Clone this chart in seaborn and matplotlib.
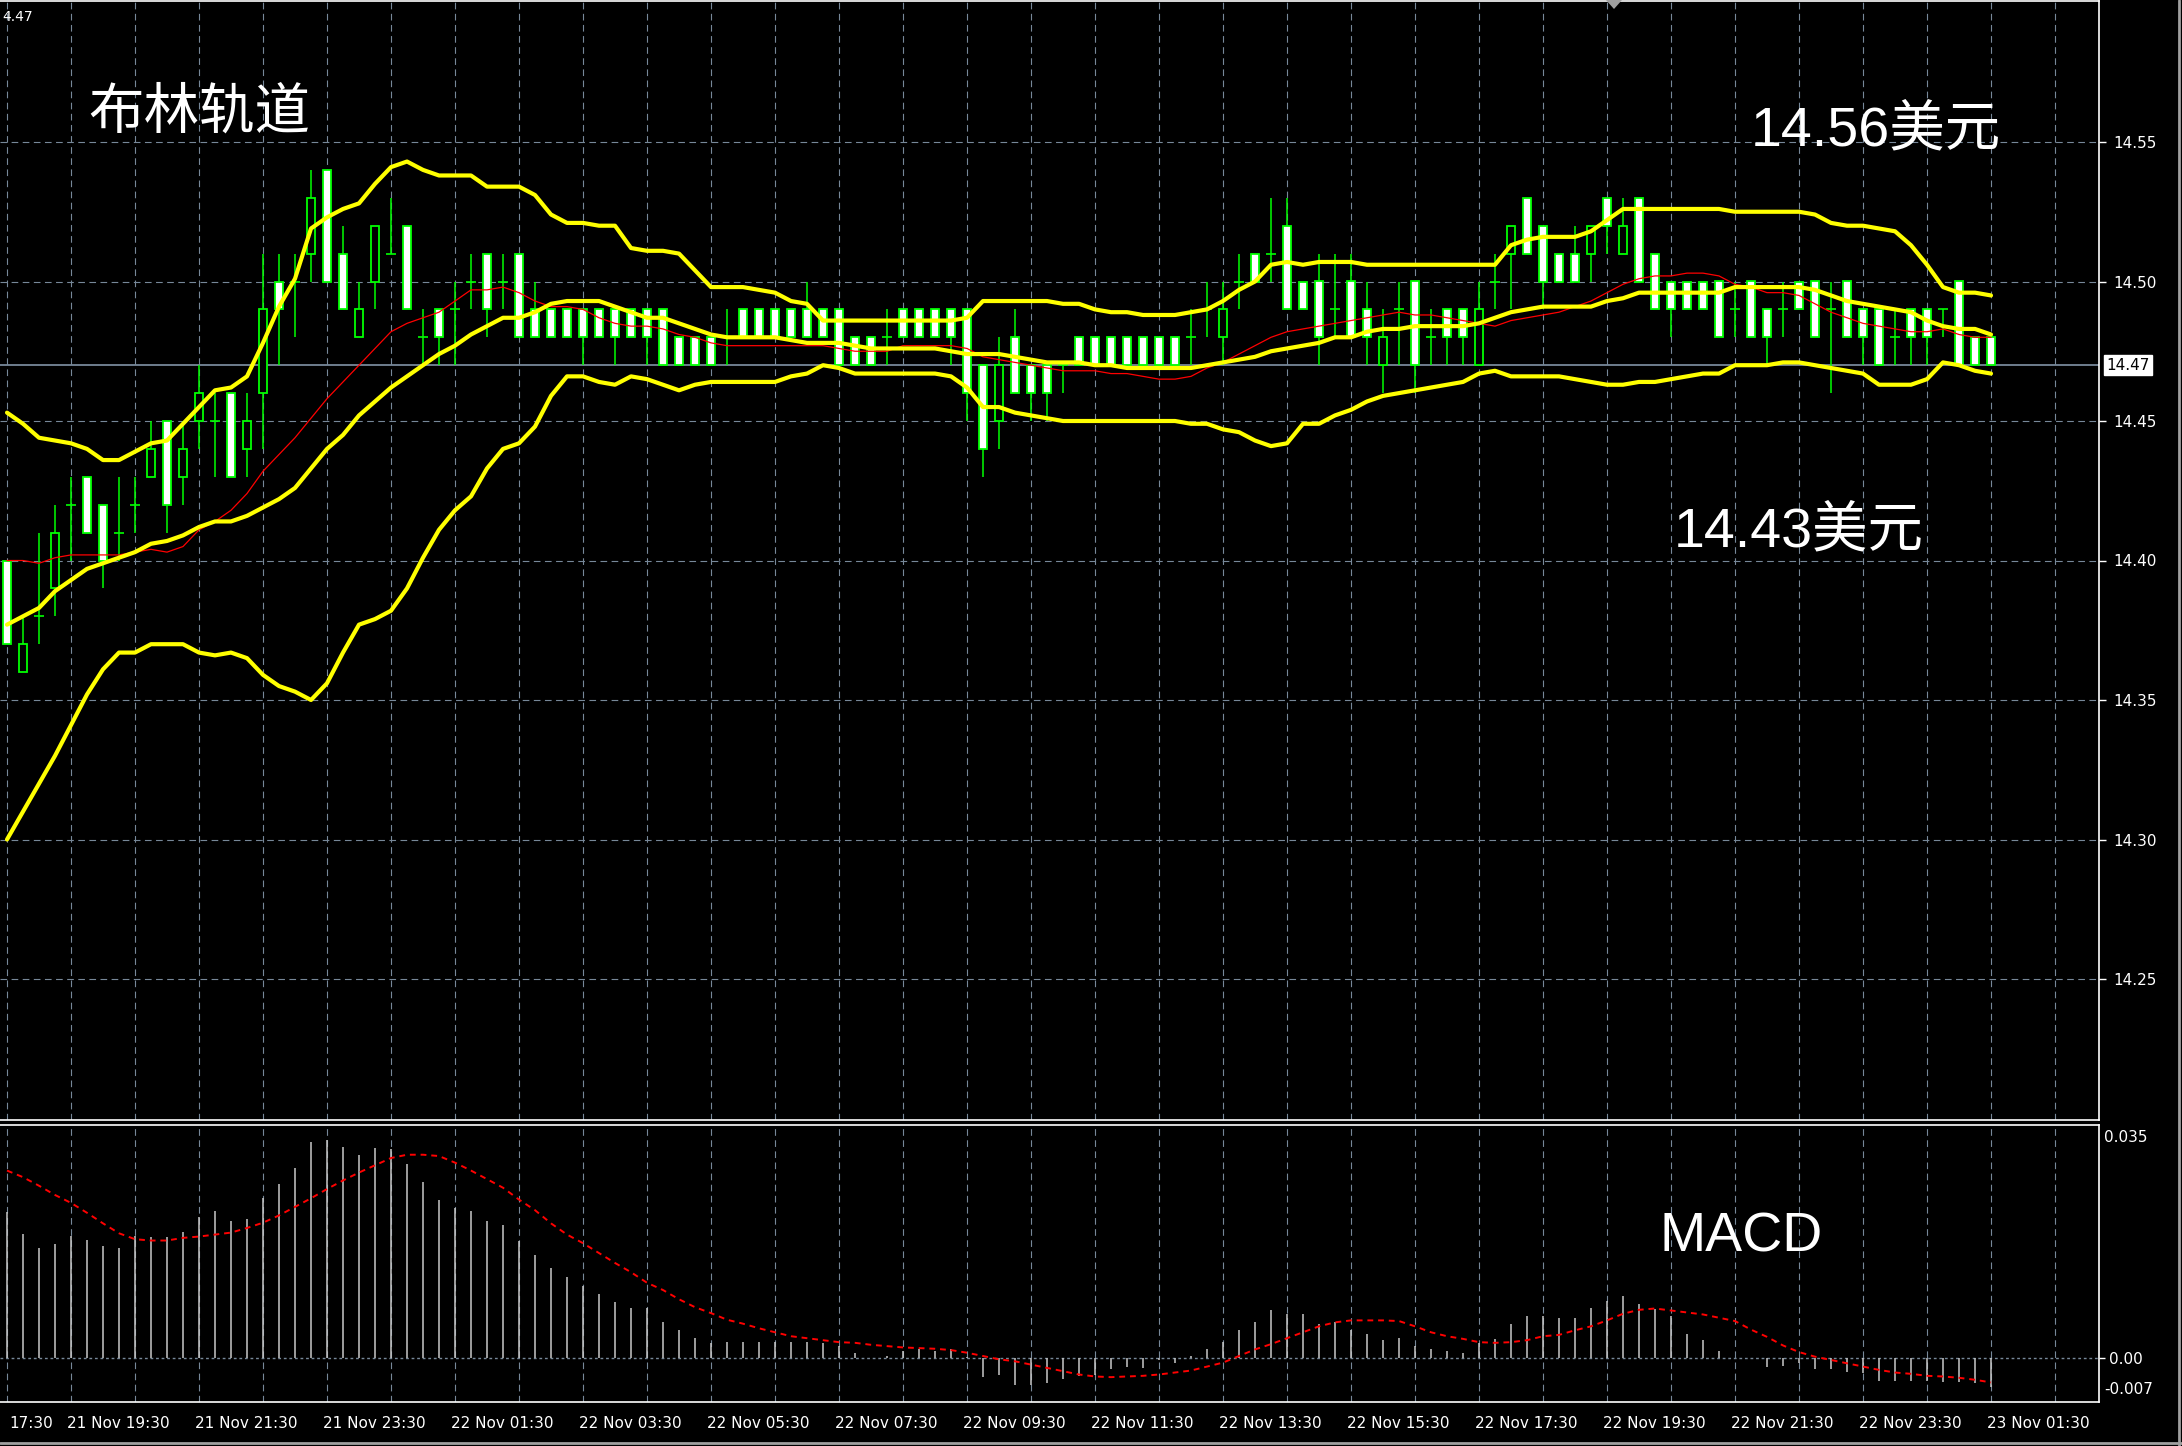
import matplotlib
matplotlib.use('Agg')
import matplotlib.pyplot as plt
import matplotlib.transforms as mtransforms
from matplotlib.lines import Line2D
from matplotlib.patches import Polygon
import numpy as np
import pandas as pd
import seaborn as sns

# ---- candle data (M15 bars, 21 Nov 18:30 -> 23 Nov 01:30) ----
open_ = [14.40, 14.36, 14.38, 14.39, 14.42, 14.43, 14.42, 14.41, 14.42, 14.43,
         14.45, 14.43, 14.45, 14.45, 14.46, 14.44, 14.46, 14.50, 14.50, 14.51,
         14.54, 14.51, 14.48, 14.50, 14.51, 14.52, 14.48, 14.49, 14.49, 14.50,
         14.51, 14.50, 14.51, 14.49, 14.49, 14.49, 14.49, 14.49, 14.49, 14.49,
         14.49, 14.49, 14.48, 14.48, 14.48, 14.48, 14.49, 14.49, 14.49, 14.49,
         14.49, 14.49, 14.49, 14.48, 14.48, 14.48, 14.49, 14.49, 14.49, 14.49,
         14.49, 14.47, 14.45, 14.48, 14.47, 14.47, 14.47, 14.48, 14.48, 14.48,
         14.48, 14.48, 14.48, 14.48, 14.48, 14.49, 14.48, 14.50, 14.51, 14.51,
         14.52, 14.50, 14.50, 14.49, 14.50, 14.49, 14.47, 14.49, 14.50, 14.48,
         14.49, 14.49, 14.47, 14.50, 14.51, 14.53, 14.52, 14.51, 14.51, 14.51,
         14.53, 14.51, 14.53, 14.51, 14.50, 14.50, 14.50, 14.50, 14.49, 14.50,
         14.49, 14.49, 14.50, 14.50, 14.49, 14.50, 14.49, 14.49, 14.48, 14.49,
         14.49, 14.49, 14.50, 14.48, 14.48]
high = [14.40, 14.38, 14.41, 14.42, 14.43, 14.43, 14.42, 14.43, 14.43, 14.45,
        14.45, 14.45, 14.47, 14.46, 14.46, 14.46, 14.51, 14.51, 14.51, 14.54,
        14.54, 14.52, 14.50, 14.52, 14.53, 14.52, 14.49, 14.49, 14.50, 14.51,
        14.51, 14.51, 14.51, 14.50, 14.49, 14.49, 14.49, 14.49, 14.49, 14.49,
        14.49, 14.49, 14.48, 14.48, 14.48, 14.49, 14.49, 14.49, 14.49, 14.49,
        14.50, 14.49, 14.49, 14.48, 14.48, 14.49, 14.49, 14.49, 14.49, 14.49,
        14.49, 14.47, 14.48, 14.49, 14.47, 14.47, 14.47, 14.48, 14.48, 14.48,
        14.48, 14.48, 14.48, 14.48, 14.49, 14.50, 14.50, 14.51, 14.51, 14.53,
        14.53, 14.50, 14.51, 14.51, 14.51, 14.50, 14.49, 14.50, 14.50, 14.49,
        14.49, 14.49, 14.50, 14.51, 14.52, 14.53, 14.52, 14.51, 14.52, 14.52,
        14.53, 14.53, 14.53, 14.51, 14.50, 14.50, 14.50, 14.50, 14.50, 14.50,
        14.49, 14.50, 14.50, 14.50, 14.50, 14.50, 14.49, 14.49, 14.49, 14.49,
        14.49, 14.49, 14.50, 14.48, 14.48]
low = [14.37, 14.36, 14.37, 14.38, 14.40, 14.41, 14.39, 14.40, 14.41, 14.43,
       14.41, 14.42, 14.44, 14.43, 14.43, 14.43, 14.44, 14.47, 14.48, 14.50,
       14.50, 14.49, 14.48, 14.49, 14.51, 14.49, 14.47, 14.47, 14.47, 14.49,
       14.48, 14.49, 14.48, 14.48, 14.48, 14.48, 14.47, 14.48, 14.47, 14.48,
       14.47, 14.47, 14.47, 14.47, 14.47, 14.47, 14.48, 14.48, 14.48, 14.48,
       14.48, 14.48, 14.47, 14.47, 14.47, 14.47, 14.48, 14.48, 14.48, 14.47,
       14.45, 14.43, 14.44, 14.46, 14.45, 14.45, 14.46, 14.47, 14.47, 14.47,
       14.47, 14.47, 14.47, 14.47, 14.47, 14.48, 14.47, 14.49, 14.50, 14.50,
       14.49, 14.49, 14.47, 14.48, 14.48, 14.47, 14.46, 14.47, 14.46, 14.47,
       14.47, 14.47, 14.47, 14.49, 14.49, 14.51, 14.49, 14.50, 14.50, 14.50,
       14.51, 14.51, 14.50, 14.49, 14.48, 14.49, 14.49, 14.48, 14.48, 14.48,
       14.47, 14.48, 14.49, 14.48, 14.46, 14.48, 14.47, 14.47, 14.47, 14.47,
       14.47, 14.48, 14.47, 14.47, 14.47]
close = [14.37, 14.37, 14.38, 14.41, 14.42, 14.41, 14.40, 14.41, 14.42, 14.44,
         14.42, 14.44, 14.46, 14.45, 14.43, 14.45, 14.49, 14.49, 14.50, 14.53,
         14.50, 14.49, 14.49, 14.52, 14.51, 14.49, 14.48, 14.48, 14.49, 14.50,
         14.49, 14.50, 14.48, 14.48, 14.48, 14.48, 14.48, 14.48, 14.48, 14.48,
         14.48, 14.47, 14.47, 14.47, 14.47, 14.48, 14.48, 14.48, 14.48, 14.48,
         14.48, 14.48, 14.47, 14.47, 14.47, 14.48, 14.48, 14.48, 14.48, 14.48,
         14.46, 14.44, 14.47, 14.46, 14.46, 14.46, 14.47, 14.47, 14.47, 14.47,
         14.47, 14.47, 14.47, 14.47, 14.48, 14.49, 14.49, 14.50, 14.50, 14.51,
         14.49, 14.49, 14.48, 14.49, 14.48, 14.48, 14.48, 14.49, 14.47, 14.48,
         14.48, 14.48, 14.49, 14.50, 14.52, 14.51, 14.50, 14.50, 14.50, 14.52,
         14.52, 14.52, 14.50, 14.49, 14.49, 14.49, 14.49, 14.48, 14.49, 14.48,
         14.48, 14.49, 14.49, 14.48, 14.49, 14.48, 14.48, 14.47, 14.48, 14.48,
         14.48, 14.49, 14.47, 14.47, 14.47]

# ---- Bollinger bands (yellow) and moving average (red) ----
bb_upper = [14.453, 14.449, 14.444, 14.443, 14.442, 14.440, 14.436, 14.436, 14.439, 14.442,
            14.443, 14.449, 14.455, 14.461, 14.462, 14.466, 14.478, 14.491, 14.501, 14.519,
            14.523, 14.526, 14.528, 14.535, 14.541, 14.543, 14.540, 14.538, 14.538, 14.538,
            14.534, 14.534, 14.534, 14.531, 14.524, 14.521, 14.521, 14.520, 14.520, 14.512,
            14.511, 14.511, 14.510, 14.504, 14.498, 14.498, 14.498, 14.497, 14.496, 14.493,
            14.492, 14.486, 14.486, 14.486, 14.486, 14.486, 14.486, 14.486, 14.486, 14.486,
            14.487, 14.493, 14.493, 14.493, 14.493, 14.493, 14.492, 14.492, 14.490, 14.489,
            14.489, 14.488, 14.488, 14.488, 14.489, 14.490, 14.493, 14.497, 14.500, 14.506,
            14.507, 14.506, 14.507, 14.507, 14.507, 14.506, 14.506, 14.506, 14.506, 14.506,
            14.506, 14.506, 14.506, 14.506, 14.513, 14.515, 14.516, 14.516, 14.516, 14.518,
            14.522, 14.526, 14.526, 14.526, 14.526, 14.526, 14.526, 14.526, 14.525, 14.525,
            14.525, 14.525, 14.525, 14.524, 14.521, 14.520, 14.520, 14.519, 14.518, 14.513,
            14.506, 14.498, 14.496, 14.496, 14.495]
bb_middle = [14.377, 14.380, 14.383, 14.389, 14.393, 14.397, 14.399, 14.401, 14.403, 14.406,
             14.407, 14.409, 14.412, 14.414, 14.414, 14.416, 14.419, 14.422, 14.426, 14.433,
             14.440, 14.445, 14.452, 14.457, 14.462, 14.466, 14.470, 14.474, 14.477, 14.481,
             14.484, 14.487, 14.487, 14.489, 14.492, 14.493, 14.493, 14.493, 14.491, 14.489,
             14.487, 14.487, 14.485, 14.483, 14.481, 14.480, 14.480, 14.480, 14.480, 14.479,
             14.478, 14.478, 14.478, 14.477, 14.476, 14.476, 14.476, 14.476, 14.476, 14.475,
             14.474, 14.474, 14.474, 14.473, 14.472, 14.471, 14.471, 14.471, 14.470, 14.470,
             14.469, 14.469, 14.469, 14.469, 14.469, 14.470, 14.471, 14.472, 14.473, 14.475,
             14.476, 14.477, 14.478, 14.480, 14.480, 14.482, 14.483, 14.483, 14.484, 14.484,
             14.484, 14.484, 14.485, 14.487, 14.489, 14.490, 14.491, 14.491, 14.491, 14.491,
             14.493, 14.494, 14.496, 14.496, 14.496, 14.496, 14.496, 14.496, 14.498, 14.498,
             14.498, 14.498, 14.498, 14.497, 14.495, 14.493, 14.492, 14.491, 14.490, 14.489,
             14.486, 14.484, 14.483, 14.483, 14.481]
bb_lower = [14.300, 14.310, 14.320, 14.330, 14.341, 14.352, 14.361, 14.367, 14.367, 14.370,
            14.370, 14.370, 14.367, 14.366, 14.367, 14.365, 14.359, 14.355, 14.353, 14.350,
            14.356, 14.367, 14.377, 14.379, 14.382, 14.390, 14.401, 14.411, 14.418, 14.423,
            14.433, 14.440, 14.442, 14.448, 14.459, 14.466, 14.466, 14.464, 14.463, 14.466,
            14.465, 14.463, 14.461, 14.463, 14.464, 14.464, 14.464, 14.464, 14.464, 14.466,
            14.467, 14.470, 14.469, 14.467, 14.467, 14.467, 14.467, 14.467, 14.467, 14.466,
            14.462, 14.455, 14.455, 14.453, 14.452, 14.451, 14.450, 14.450, 14.450, 14.450,
            14.450, 14.450, 14.450, 14.450, 14.449, 14.449, 14.447, 14.446, 14.443, 14.441,
            14.442, 14.449, 14.449, 14.452, 14.454, 14.457, 14.459, 14.460, 14.461, 14.462,
            14.463, 14.464, 14.467, 14.468, 14.466, 14.466, 14.466, 14.466, 14.465, 14.464,
            14.463, 14.463, 14.464, 14.464, 14.465, 14.466, 14.467, 14.467, 14.470, 14.470,
            14.470, 14.471, 14.471, 14.470, 14.469, 14.468, 14.467, 14.463, 14.463, 14.463,
            14.465, 14.471, 14.470, 14.468, 14.467]
ma_red = [14.400, 14.400, 14.399, 14.401, 14.402, 14.402, 14.402, 14.402, 14.403, 14.404,
          14.403, 14.405, 14.411, 14.414, 14.418, 14.424, 14.432, 14.438, 14.444, 14.451,
          14.458, 14.464, 14.470, 14.476, 14.482, 14.485, 14.487, 14.489, 14.493, 14.497,
          14.497, 14.498, 14.496, 14.493, 14.491, 14.491, 14.490, 14.487, 14.485, 14.484,
          14.484, 14.483, 14.481, 14.480, 14.478, 14.477, 14.477, 14.477, 14.477, 14.477,
          14.477, 14.477, 14.476, 14.475, 14.475, 14.475, 14.477, 14.477, 14.477, 14.477,
          14.476, 14.473, 14.472, 14.471, 14.470, 14.469, 14.468, 14.468, 14.468, 14.467,
          14.467, 14.466, 14.465, 14.465, 14.466, 14.469, 14.471, 14.474, 14.477, 14.480,
          14.482, 14.483, 14.484, 14.485, 14.486, 14.487, 14.488, 14.489, 14.488, 14.488,
          14.487, 14.486, 14.485, 14.484, 14.486, 14.487, 14.488, 14.489, 14.491, 14.493,
          14.496, 14.499, 14.501, 14.502, 14.502, 14.503, 14.503, 14.502, 14.499, 14.498,
          14.496, 14.496, 14.495, 14.492, 14.489, 14.487, 14.485, 14.484, 14.483, 14.482,
          14.482, 14.483, 14.481, 14.480, 14.480]

# ---- MACD (x 0.001): main as histogram, signal dotted ----
macd_main = [22.1, 18.8, 16.7, 17.3, 18.5, 17.9, 17.0, 16.7, 18.5, 18.3,
             18.3, 19.1, 21.3, 22.2, 20.7, 21.0, 24.3, 26.4, 28.8, 32.8,
             33.0, 31.9, 30.7, 31.8, 31.6, 29.4, 26.7, 24.0, 22.8, 22.2,
             20.7, 20.1, 17.7, 15.6, 13.7, 12.2, 10.9, 9.7, 8.5, 7.6,
             7.6, 5.5, 4.3, 3.1, 2.2, 2.5, 2.5, 2.5, 2.5, 2.5,
             2.5, 2.2, 1.8, 0.7, 0.0, 0.3, 1.0, 1.3, 1.0, 1.3,
             0.2, -2.9, -2.6, -4.1, -4.1, -3.8, -3.2, -2.8, -2.5, -1.7,
             -1.3, -1.5, -0.3, -0.8, 0.3, 1.3, 2.4, 4.3, 5.4, 7.3,
             6.6, 6.7, 5.2, 5.4, 4.3, 3.6, 2.8, 3.1, 1.8, 1.3,
             1.0, 0.8, 2.2, 2.9, 5.2, 6.3, 6.3, 6.1, 6.1, 7.6,
             8.6, 9.4, 8.2, 7.4, 6.4, 3.7, 2.8, 1.0, 0.0, 0.0,
             -1.3, -1.2, -0.8, -1.6, -1.7, -2.1, -2.2, -3.5, -3.5, -3.5,
             -3.5, -3.7, -3.7, -3.8, -4.4]
macd_signal = [28.4, 27.4, 26.1, 24.7, 23.5, 22.0, 20.4, 18.9, 18.0, 17.8,
               17.8, 18.2, 18.4, 18.7, 19.0, 19.7, 20.5, 21.6, 22.9, 24.2,
               25.6, 26.9, 28.1, 29.2, 30.3, 30.8, 30.8, 30.6, 29.6, 28.4,
               27.1, 25.8, 24.0, 22.4, 20.4, 18.7, 17.4, 15.9, 14.4, 13.0,
               11.4, 10.3, 8.9, 7.7, 6.8, 5.8, 5.2, 4.5, 3.9, 3.3,
               3.0, 2.7, 2.4, 2.3, 2.0, 1.8, 1.6, 1.5, 1.4, 1.2,
               0.8, 0.3, -0.2, -0.5, -1.0, -1.5, -2.0, -2.5, -2.8, -2.9,
               -2.8, -2.7, -2.5, -2.2, -1.9, -1.3, -0.7, 0.3, 1.3, 2.1,
               3.0, 3.9, 4.8, 5.4, 5.7, 5.7, 5.7, 5.6, 4.8, 3.9,
               3.3, 2.9, 2.4, 2.3, 2.4, 2.7, 3.3, 3.5, 4.2, 4.8,
               5.7, 6.7, 7.3, 7.5, 7.2, 6.9, 6.6, 6.1, 5.6, 4.3,
               3.2, 1.9, 0.9, 0.2, -0.3, -0.8, -1.3, -1.8, -2.2, -2.4,
               -2.7, -2.8, -3.0, -3.3, -3.7]

price_ticks = [14.25, 14.30, 14.35, 14.40, 14.45, 14.50, 14.55]
last_price = 14.47
date_labels = ['21 Nov 19:30', '21 Nov 21:30', '21 Nov 23:30', '22 Nov 01:30',
               '22 Nov 03:30', '22 Nov 05:30', '22 Nov 07:30', '22 Nov 09:30',
               '22 Nov 11:30', '22 Nov 13:30', '22 Nov 15:30', '22 Nov 17:30',
               '22 Nov 19:30', '22 Nov 21:30', '22 Nov 23:30', '23 Nov 01:30']
first_label = '17:30'   # tail of the clipped "21 Nov 17:30" label

# ---- styling ----
GREEN = '#00FF00'
YELLOW = '#FFFF00'
GRID = '#778899'
W, H = 2182, 1446


def fx(px):
    return px / W


def fy(py):
    return 1 - py / H


sns.set_theme(style='dark', rc={'axes.facecolor': 'black', 'figure.facecolor': 'black',
                                'axes.edgecolor': 'white', 'text.color': 'white',
                                'xtick.color': 'white', 'ytick.color': 'white'})
plt.rcParams['font.family'] = ['Liberation Sans', 'Noto Sans CJK SC', 'DejaVu Sans']

n = len(open_)
df = pd.DataFrame({'bar': np.arange(n), 'open': open_, 'high': high, 'low': low,
                   'close': close, 'upper': bb_upper, 'middle': bb_middle,
                   'lower': bb_lower, 'ma': ma_red,
                   'macd': np.array(macd_main) / 1000,
                   'signal': np.array(macd_signal) / 1000})

fig = plt.figure(figsize=(W / 100, H / 100), dpi=100, facecolor='black')
ax = fig.add_axes([0, fy(1120), fx(2099), (1120 - 1) / H])
ax2 = fig.add_axes([0, fy(1402), fx(2099), (1402 - 1125) / H])

xlim = ((0 - 7) / 16, (2099 - 7) / 16)
dash = (0, (6, 4))

# ---- main price panel ----
ax.set_xlim(*xlim)
ax.set_ylim(14.55 - (1120 - 142) / 2790, 14.55 + (142 - 1) / 2790)
ax.set_xticks(np.arange(0, 132, 4))
ax.tick_params(axis='x', length=0, labelbottom=False)
ax.yaxis.tick_right()
ax.set_yticks(price_ticks)
ax.set_yticklabels([f'{t:.2f}' for t in price_ticks], fontsize=11,
                   family='DejaVu Sans', color='white')
ax.tick_params(axis='y', length=5, width=1, pad=5, colors='white')
ax.grid(True, color=GRID, linestyle=dash, linewidth=0.8)
ax.axhline(last_price, color=GRID, linewidth=1.3, zorder=1.5)

# candles: wicks, bodies, dojis
ax.vlines(df['bar'], df['low'], df['high'], color=GREEN, linewidth=1.1, zorder=3)
body = df[df['open'] != df['close']]
ax.bar(body['bar'], (body['open'] - body['close']).abs(),
       bottom=body[['open', 'close']].min(axis=1), width=0.56,
       color=np.where(body['open'] > body['close'], 'white', 'black'),
       edgecolor=GREEN, linewidth=1.3, zorder=4)
doji = df[df['open'] == df['close']]
ax.hlines(doji['close'], doji['bar'] - 0.3, doji['bar'] + 0.3, color=GREEN,
          linewidth=1.2, zorder=4)

sns.lineplot(data=df, x='bar', y='ma', color='#FF0000', linewidth=0.9, ax=ax, zorder=5)
for col in ['upper', 'middle', 'lower']:
    sns.lineplot(data=df, x='bar', y=col, color=YELLOW, linewidth=3.0, ax=ax, zorder=6)
ax.set_xlabel('')
ax.set_ylabel('')
ax.spines['left'].set_visible(False)
for s in ['top', 'right', 'bottom']:
    ax.spines[s].set_color('white')
    ax.spines[s].set_linewidth(1.2)

# current price tag
ax.text(1.0035, last_price, f'{last_price:.2f}',
        transform=mtransforms.blended_transform_factory(ax.transAxes, ax.transData),
        ha='left', va='center', fontsize=11, family='DejaVu Sans', color='black',
        bbox=dict(boxstyle='square,pad=0.15', facecolor='white', edgecolor='white'),
        clip_on=False, zorder=10)

# ---- MACD panel ----
ax2.set_xlim(*xlim)
ax2.set_ylim(-44 / 6600, (1358 - 1125) / 6600)
ax2.vlines(df['bar'], 0, df['macd'], color='#C8C8C8', linewidth=1.1, zorder=3)
sns.lineplot(data=df, x='bar', y='signal', color='#FF0000', linewidth=1.4,
             linestyle=(0, (3, 2.5)), ax=ax2, zorder=4)
ax2.set_xlabel('')
ax2.set_ylabel('')
ax2.set_xticks(np.arange(4, 132, 8))
ax2.set_xticklabels(date_labels, ha='left', fontsize=11, family='DejaVu Sans',
                    color='white')
ax2.set_xticks(np.arange(0, 132, 4), minor=True)
ax2.tick_params(axis='x', which='major', length=5, width=1, pad=5, colors='white')
ax2.tick_params(axis='x', which='minor', length=0)
for lab in ax2.get_xticklabels():
    lab.set_transform(lab.get_transform() + mtransforms.ScaledTranslation(-4 / 100, 0, fig.dpi_scale_trans))
ax2.grid(True, which='both', axis='x', color=GRID, linestyle=dash, linewidth=0.8)
ax2.axhline(0, color=GRID, linestyle=(0, (2, 2)), linewidth=1.0, zorder=2)
ax2.yaxis.tick_right()
ax2.set_yticks([0.0])
ax2.set_yticklabels(['0.00'], fontsize=11, family='DejaVu Sans', color='white')
ax2.tick_params(axis='y', length=4, width=1, pad=3, colors='white')
ax2.spines['left'].set_visible(False)
for s in ['top', 'right', 'bottom']:
    ax2.spines[s].set_color('white')
    ax2.spines[s].set_linewidth(1.2)

fig.text(fx(2104), fy(1138), '0.035', ha='left', va='center', fontsize=11,
         family='DejaVu Sans', color='white')
fig.text(fx(2104), fy(1389), '-0.007', ha='left', va='center', fontsize=11,
         family='DejaVu Sans', color='white')
fig.text(fx(9), fy(1423), first_label, ha='left', va='center', fontsize=11,
         family='DejaVu Sans', color='white')
fig.text(fx(2), fy(17), '4.47', ha='left', va='center', fontsize=10,
         family='DejaVu Sans', color='white')

# ---- annotations ----
fig.text(fx(88), fy(129), '布林轨道', ha='left', va='baseline', fontsize=40, color='white')
fig.text(fx(1751), fy(145), '14.56美元', ha='left', va='baseline', fontsize=40, color='white')
fig.text(fx(1674), fy(546), '14.43美元', ha='left', va='baseline', fontsize=40, color='white')
fig.text(fx(1659), fy(1252), 'MACD', ha='left', va='baseline', fontsize=40, color='white')

# window frame and shift marker
fig.add_artist(Line2D([fx(2179), fx(2179)], [0, 1], color='#A0A0A0', linewidth=2))
fig.add_artist(Line2D([0, 1], [fy(1443), fy(1443)], color='#A0A0A0', linewidth=2))
fig.add_artist(Polygon([[fx(1606), fy(0)], [fx(1622), fy(0)], [fx(1614), fy(9)]],
                       closed=True, facecolor='#A0A0A0', edgecolor='none'))

fig.savefig('out.png', dpi=100, facecolor='black')
